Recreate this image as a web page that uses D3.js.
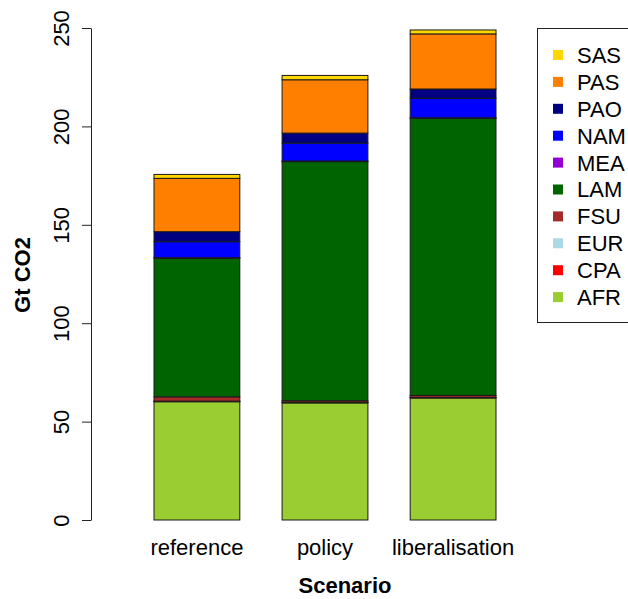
<!DOCTYPE html>
<html>
<head>
<meta charset="utf-8">
<script src="https://cdn.jsdelivr.net/npm/d3@7"></script>
<style>
  html, body { margin: 0; padding: 0; background: #fff; }
  svg { display: block; font-family: "Liberation Sans", Arial, Helvetica, sans-serif; }
</style>
</head>
<body>
<svg id="chart" width="628" height="599"></svg>
<script>
// Scenarios on the x axis
const scenarios = ["reference", "policy", "liberalisation"];

// Regions, stacked bottom to top
const regions = ["AFR", "CPA", "EUR", "FSU", "LAM", "MEA", "NAM", "PAO", "PAS", "SAS"];

// Emissions per region (Gt CO2), one value per scenario
const AFR = [60.1, 59.5, 62.0];
const CPA = [0.2, 0.2, 0.2];
const EUR = [0.1, 0.1, 0.1];
const FSU = [2.2, 0.8, 1.0];
const LAM = [70.4, 121.5, 140.8];
const MEA = [0.3, 0.3, 0.3];
const NAM = [8.1, 9.1, 9.9];
const PAO = [5.1, 5.1, 4.7];
const PAS = [27.1, 27.1, 28.0];
const SAS = [2.0, 2.2, 2.0];

const yTicks = [0, 50, 100, 150, 200, 250];

const regionColors = {
  AFR: "#9ACD32", CPA: "#FF0000", EUR: "#ADD8E6", FSU: "#A52A2A", LAM: "#006400",
  MEA: "#9400D3", NAM: "#0000FF", PAO: "#000080", PAS: "#FF7F00", SAS: "#FFD700"
};

const seriesValues = { AFR, CPA, EUR, FSU, LAM, MEA, NAM, PAO, PAS, SAS };

// Rows for the stack layout
const rows = scenarios.map((s, i) => {
  const r = { scenario: s };
  regions.forEach(k => { r[k] = seriesValues[k][i]; });
  return r;
});

const svg = d3.select("#chart");
const fontSize = 22;

const x = d3.scaleBand()
  .domain(scenarios)
  .range([154, 496])
  .paddingInner(0.33)
  .paddingOuter(0);

const y = d3.scaleLinear().domain([0, 250]).range([520, 28]);

const stacked = d3.stack().keys(regions)(rows);

// Stacked bars
svg.append("g")
  .selectAll("g")
  .data(stacked)
  .join("g")
  .attr("fill", d => regionColors[d.key])
  .selectAll("rect")
  .data(d => d)
  .join("rect")
  .attr("x", d => x(d.data.scenario))
  .attr("width", x.bandwidth())
  .attr("y", d => y(d[1]))
  .attr("height", d => y(d[0]) - y(d[1]))
  .attr("stroke", "#1a1a1a")
  .attr("stroke-width", 1);

// Y axis with labels parallel to the axis
const yAxis = svg.append("g")
  .attr("transform", "translate(91,0)")
  .call(d3.axisLeft(y).tickValues(yTicks).tickSize(9).tickSizeOuter(0));
yAxis.select(".domain").attr("stroke", "#222");
yAxis.selectAll(".tick line").attr("stroke", "#222");
yAxis.selectAll(".tick text")
  .attr("transform", "rotate(-90)")
  .attr("x", 0)
  .attr("y", -22)
  .attr("dy", 0)
  .attr("text-anchor", "middle")
  .attr("fill", "#000")
  .style("font-size", fontSize + "px")
  .style("font-family", "'Liberation Sans', Arial, sans-serif");

// X category labels (no axis line)
svg.append("g")
  .selectAll("text")
  .data(scenarios)
  .join("text")
  .attr("x", d => x(d) + x.bandwidth() / 2)
  .attr("y", 555)
  .attr("text-anchor", "middle")
  .style("font-size", fontSize + "px")
  .text(d => d);

// Axis titles
svg.append("text")
  .attr("x", 345)
  .attr("y", 593)
  .attr("text-anchor", "middle")
  .style("font-size", fontSize + "px")
  .style("font-weight", "bold")
  .text("Scenario");

svg.append("text")
  .attr("transform", "translate(30,275) rotate(-90)")
  .attr("text-anchor", "middle")
  .style("font-size", fontSize + "px")
  .style("font-weight", "bold")
  .text("Gt CO2");

// Legend, top region first
const legend = svg.append("g");
legend.append("rect")
  .attr("x", 537.5).attr("y", 28.5)
  .attr("width", 120).attr("height", 294)
  .attr("fill", "#fff").attr("stroke", "#222").attr("stroke-width", 1);

const legendOrder = regions.slice().reverse();
const item = legend.selectAll("g.item")
  .data(legendOrder)
  .join("g")
  .attr("class", "item")
  .attr("transform", (d, i) => `translate(0,${55 + i * 26.9})`);
item.append("rect")
  .attr("x", 553).attr("y", -5)
  .attr("width", 10).attr("height", 10)
  .attr("fill", d => regionColors[d]);
item.append("text")
  .attr("x", 577).attr("y", 0)
  .attr("dy", "0.36em")
  .style("font-size", fontSize + "px")
  .text(d => d);
</script>
</body>
</html>
